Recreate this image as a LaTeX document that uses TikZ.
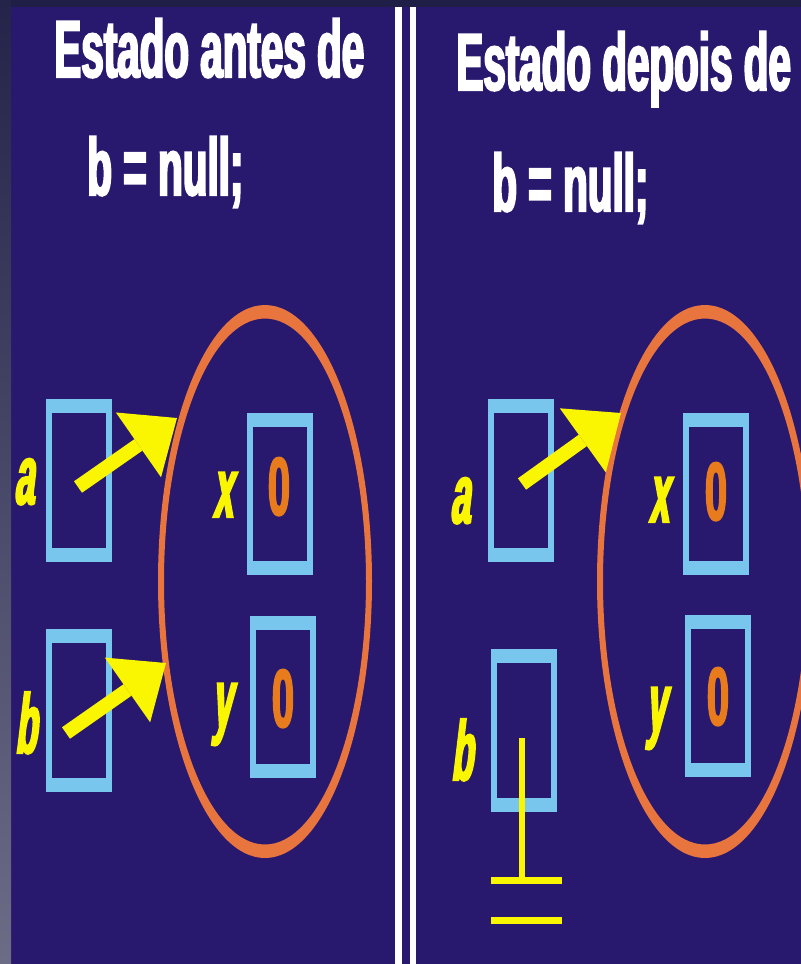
\documentclass[tikz,border=0pt]{standalone}
\usepackage{fontspec}
\usetikzlibrary{arrows.meta}
\newfontfamily\titlefont{Liberation Sans Bold}[FakeStretch=0.5,FakeBold=2.5]
\newfontfamily\labelfont{Liberation Sans Bold}[FakeStretch=0.42,FakeSlant=0.12,FakeBold=2.5]
\newfontfamily\digitfont{Liberation Sans Bold}[FakeStretch=0.48,FakeBold=2]
\definecolor{slidebg}{RGB}{40,24,110}
\definecolor{topbar}{RGB}{30,30,70}
\definecolor{stripdark}{RGB}{36,36,74}
\definecolor{striplight}{RGB}{108,108,135}
\definecolor{boxblue}{RGB}{120,198,238}
\definecolor{ringorange}{RGB}{232,116,62}
\definecolor{valorange}{RGB}{232,124,28}
\definecolor{ptryellow}{RGB}{250,245,0}

\begin{document}
\begin{tikzpicture}[x=0.02cm,y=-0.02cm,
  title/.style={text=white,font=\titlefont\fontsize{46}{46}\selectfont,anchor=base west,inner sep=0},
  varname/.style={text=ptryellow,font=\labelfont\fontsize{48}{48}\selectfont,anchor=base,inner sep=0},
  value/.style={text=valorange,font=\digitfont\fontsize{47}{47}\selectfont,anchor=base,inner sep=0},
  varbox/.style={fill=boxblue,minimum width=1.32cm,minimum height=3.26cm,inner sep=0,
    path picture={\fill[slidebg] ([shift={(0.12cm,0.28cm)}]path picture bounding box.south west)
      rectangle ([shift={(-0.12cm,-0.28cm)}]path picture bounding box.north east);}},
  ring/.style={fill=ringorange,even odd rule},
  ptr/.style={draw=ptryellow,line width=0.28cm,-{Triangle[length=0.94cm,width=1.58cm,line width=0pt]}},
  ground/.style={draw=ptryellow,line width=0.12cm},
  plate/.style={draw=ptryellow,line width=0.14cm},
  wall/.style={draw=white,line width=0.13cm}]
\useasboundingbox (0,0) rectangle (801,964);
\clip (0,0) rectangle (801,964);
%slide background
\fill[slidebg] (0,0) rectangle (801,964);
\fill[topbar] (0,0) rectangle (801,7);
\shade[top color=stripdark,bottom color=striplight] (0,0) rectangle (11,964);
%divider
\draw[wall] (398.5,7) -- (398.5,964);
\draw[wall] (413,7) -- (413,964);

%before
\node[title] (Ltitle) at (54,77) {Estado antes de};
\node[title] (Lcode) at (87,195) {b = null;};
\fill[ring] (265,581.5) ellipse [x radius=107,y radius=276.5]
            (265,581.5) ellipse [x radius=101,y radius=263];
\coordinate (Lobj-a) at (177,418);
\coordinate (Lobj-b) at (166,663);
\node[varbox] (La) at (79,480.5) {};
\node[varbox] (Lb) at (79,710.5) {};
\node[varbox] (Lx) at (280,494) {};
\node[varbox] (Ly) at (283,697) {};
\node[varname] (La-name) at (24,504) {a};
\node[varname] (Lb-name) at (26,753) {b};
\node[varname] (Lx-name) at (223,517) {x};
\node[varname] (Ly-name) at (222,728) {y};
\node[value] (Lx-val) at (279,515) {0};
\node[value] (Ly-val) at (283,727) {0};
\draw[ptr] ([shift={(-1,6.5)}]La.center) -- (Lobj-a);
\draw[ptr] ([shift={(-13,22.5)}]Lb.center) -- (Lobj-b);

%after
\node[title] (Rtitle) at (456,90) {Estado depois de};
\node[title] (Rcode) at (492,211) {b = null;};
\fill[ring] (705,581.5) ellipse [x radius=108,y radius=276.5]
            (705,581.5) ellipse [x radius=102,y radius=263];
\coordinate (Robj-a) at (621,413);
\node[varbox] (Ra) at (521,480.5) {};
\node[varbox] (Rb) at (524,730.5) {};
\node[varbox] (Rx) at (715.5,494) {};
\node[varbox] (Ry) at (717.5,696) {};
\node[varname] (Ra-name) at (460,523) {a};
\node[varname] (Rb-name) at (462,780) {b};
\node[varname] (Rx-name) at (659,522) {x};
\node[varname] (Ry-name) at (656,732) {y};
\node[value] (Rx-val) at (716,520) {0};
\node[value] (Ry-val) at (718,725) {0};
\draw[ptr] ([shift={(1,3.5)}]Ra.center) -- (Robj-a);
%null reference
\coordinate (Rgnd) at (522,880);
\draw[ground] ([shift={(-2,7.5)}]Rb.center) -- (Rgnd);
\draw[plate] (Rgnd) ++(-31,0) -- ++(71,0) ++(-71,40) -- ++(71,0);
\end{tikzpicture}
\end{document}
